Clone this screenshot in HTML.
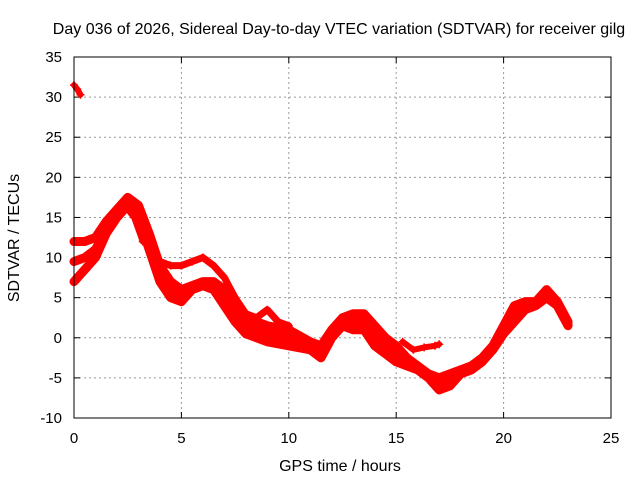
<!DOCTYPE html>
<html><head><meta charset="utf-8"><style>
body{margin:0;background:#fff}
svg text{font-family:"Liberation Sans",sans-serif;font-size:15px;fill:#000}
svg text.big{font-size:16px}
</style></head><body>
<svg id="chart" width="640" height="480" xmlns="http://www.w3.org/2000/svg">
<rect width="640" height="480" fill="#fff"/>
<text class="big" x="339" y="34" text-anchor="middle">Day 036 of 2026, Sidereal Day-to-day VTEC variation (SDTVAR) for receiver gilg</text>
<text class="big" x="340" y="471" text-anchor="middle">GPS time / hours</text>
<text class="big" transform="translate(19,238) rotate(-90)" text-anchor="middle">SDTVAR / TECUs</text>
<g id="grid"></g><g id="ticks"></g><g id="series"></g>
<rect x="74" y="57" width="537" height="361" fill="none" stroke="#000" stroke-width="1"/>
</svg>
<script>
const xTicks=[0,5,10,15,20,25];
const yTicks=[-10,-5,0,5,10,15,20,25,30,35];
const hoursA=[0,0.5,1,1.5,2,2.5,3,3.5,4,4.5,5,5.5,6,6.5,7,7.5,8,9,10,11,11.5,12,12.5,13,13.5,14,14.5,15,15.5,16,16.5,17,17.5,18,18.5,19,19.5,20,20.5,21,21.5,22,22.5,23];
const valuesA=[12,12,12.5,14.5,16,17.5,16.5,13,9,7,6,6.5,7,7,6,4,2.5,1.5,1,-0.5,-1,1,2.5,3,3,1.5,0,-1,-2.5,-3.5,-4.5,-5,-4.5,-4,-3.5,-2.5,-1,1.5,4,4.5,4.5,6,4.5,2];
const valuesB=[7,8.5,10,13,15,16.5,15,11,7,5,4.5,6,6.5,6,4,2,0.5,-0.5,-1,-1.5,-2.5,0,1.5,1,1,-1,-2,-3,-3.5,-4,-5,-6.5,-6,-4.5,-4,-3,-1.5,0.5,2,3.5,4,5,4,1.5];
const valuesM=[9.5,10,11,13.5,15.5,17,16,12,8,6,5.3,6.2,6.8,6.5,5,3,1.5,0.5,0,-1,-1.8,0.5,2,2,2,0.3,-1,-2,-3,-3.8,-4.8,-5.8,-5.2,-4.3,-3.8,-2.8,-1.3,1,3,4,4.2,5.5,4.2,1.8];
const hoursC=[4,4.5,5,5.5,6,6.5,7,7.5,8,8.5,9,9.5,10];
const valuesC=[9.5,9,9,9.5,10,9,7.5,5,3,2.5,3.5,2,1.5];
const hoursD=[15.3,15.8,16.3,16.8,17];
const valuesD=[-0.5,-1.5,-1.2,-1,-0.8];
const hoursE=[0,0.15,0.3];
const valuesE=[31.5,31,30.3];
const hoursF=[2.5,2.8,3.2];
const valuesF=[16,15,12];
const X=v=>74+v*537/25, Y=v=>418-(v+10)*361/45;
const NS="http://www.w3.org/2000/svg";
function mk(t,a,p){const e=document.createElementNS(NS,t);for(const k in a)e.setAttribute(k,a[k]);p.appendChild(e);return e;}
const grid=document.getElementById('grid'),ticks=document.getElementById('ticks'),ser=document.getElementById('series');
xTicks.forEach(t=>{
 if(t>0&&t<25){const g=mk('line',{x1:X(t),x2:X(t),y1:57,y2:418,stroke:'#999','stroke-dasharray':'2,3'},grid);
 
 }
 mk('line',{x1:X(t),x2:X(t),y1:418,y2:412,stroke:'#000'},ticks);
 mk('line',{x1:X(t),x2:X(t),y1:57,y2:63,stroke:'#000'},ticks);
 const l=mk('text',{x:X(t),y:443,'text-anchor':'middle'},ticks);l.textContent=t;
 
 
});
yTicks.forEach(t=>{
 if(t>-10&&t<35){const g=mk('line',{x1:74,x2:611,y1:Y(t),y2:Y(t),stroke:'#999','stroke-dasharray':'2,3'},grid);
 
 }
 mk('line',{x1:74,x2:80,y1:Y(t),y2:Y(t),stroke:'#000'},ticks);
 mk('line',{x1:611,x2:605,y1:Y(t),y2:Y(t),stroke:'#000'},ticks);
 const l=mk('text',{x:62,y:Y(t)+5,'text-anchor':'end'},ticks);l.textContent=t;
 
 
});
function trace(hs,vs,name,w){
 const pts=hs.map((h,i)=>X(h)+','+Y(vs[i])).join(' ');
 const p=mk('polyline',{points:pts,fill:'none',stroke:'#f00','stroke-width':w,'stroke-linejoin':'round','stroke-linecap':'round'},ser);
 
 
 hs.forEach((h,i)=>{const c=mk('path',{d:`M${X(h)-4},${Y(vs[i])}h8M${X(h)},${Y(vs[i])-4}v8`,stroke:'#f00','stroke-width':1.5},ser);
 
 });
}
trace(hoursA,valuesA,'series-upper-band',9);
trace(hoursA,valuesM,'series-middle-band',9);
trace(hoursA,valuesB,'series-lower-band',9);
trace(hoursC,valuesC,'series-branch-morning',7);
trace(hoursD,valuesD,'series-branch-afternoon',6);
trace(hoursE,valuesE,'series-start-segment',6);
trace(hoursF,valuesF,'series-spur',6);
</script>
</body></html>
